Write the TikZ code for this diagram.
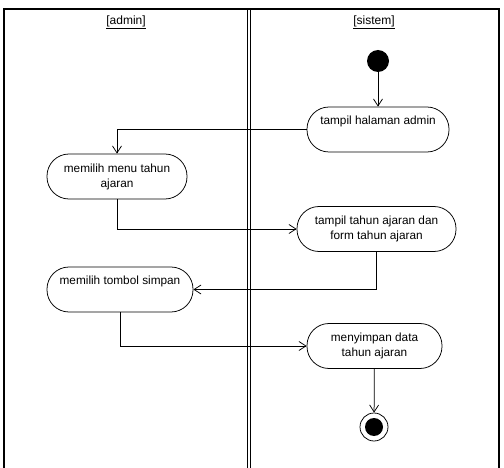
\documentclass[tikz,border=0pt]{standalone}
\usepackage{fontspec}
\setmainfont{Liberation Sans}
\usetikzlibrary{arrows.meta}

\begin{document}
\begin{tikzpicture}
	[x=1pt,y=-1pt,line width=.75pt,
	 act/.style={draw,rounded corners=22pt,minimum height=45pt,inner sep=2pt,align=center,font=\fontsize{11.8}{15}\selectfont},
	 flow/.style={-{Straight Barb[length=7pt,width=9pt]}},
	 lane/.style={font=\fontsize{12}{14}\selectfont}]

\useasboundingbox (0,0) rectangle (504,468);

	% swimlanes
	\draw[line width=1.1pt] (4,468)--(4,9)--(499,9)--(499,468);
	\draw[line width=1pt] (247,9)--(247,468);
	\draw[line width=1pt] (250,9)--(250,468);
	\node[lane] (admin) at (126,22) {\underline{[admin]}};
	\node[lane] (sistem) at (374,22) {\underline{[sistem]}};

	% start and end
	\node[circle,fill,minimum size=22pt,inner sep=0pt] (start) at (378,61) {};
	\node[circle,draw,minimum size=28pt,inner sep=0pt,
	 path picture={\fill (path picture bounding box.center) circle (9pt);}] (end) at (374,427) {};

	% activities
	\node[act,minimum width=142pt] (halaman) at (378,129.5) {tampil halaman admin\\ \strut};
	\node[act,minimum width=140pt] (menu) at (117,176.5) {memilih menu tahun\\ajaran};
	\node[act,minimum width=159pt] (form) at (376.5,229) {tampil tahun ajaran dan\\form tahun ajaran};
	\node[act,minimum width=146pt] (simpan) at (120,289.5) {memilih tombol simpan\\ \strut};
	\node[act,minimum width=135pt] (data) at (374.5,346) {menyimpan data\\tahun ajaran};

	% transitions
	\draw[flow] (start)--(halaman);
	\draw[flow] (halaman.west) -| (menu.north);
	\draw[flow] (menu.south) |- (form.west);
	\draw[flow] (form.south) |- (simpan.east);
	\draw[flow] (simpan.south) |- (data.west);
	\draw[flow] (data)--(end);

\end{tikzpicture}
\end{document}
